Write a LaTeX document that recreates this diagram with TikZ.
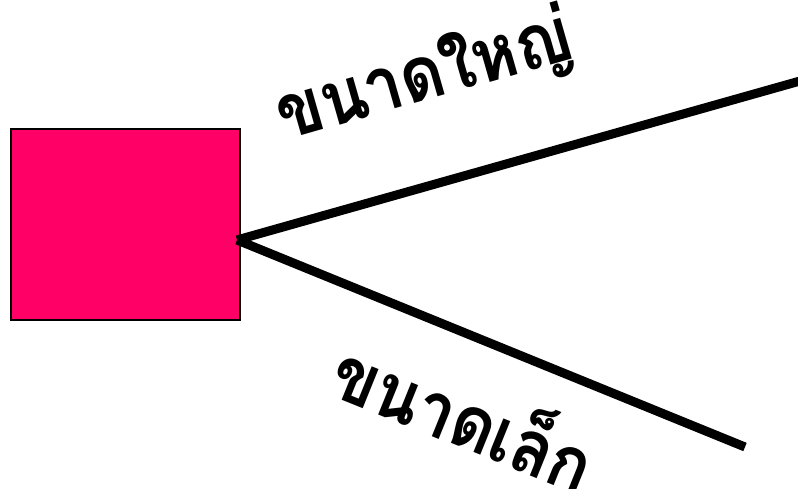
\documentclass[tikz,border=0pt]{standalone}
\usepackage{fontspec}
\newfontfamily\thaifont[Script=Thai, FakeStretch=0.9, LetterSpace=-2]{Loma}
\usetikzlibrary{positioning}
\definecolor{boxpink}{HTML}{FF0066}

\begin{document}
\begin{tikzpicture}[x=1pt, y=-1pt,
    block/.style = {draw, line width=1.5pt, fill=boxpink, minimum width=229pt, minimum height=191pt, inner sep=0pt},
    branch/.style = {line width=9pt},
    label/.style = {font=\thaifont\bfseries\fontsize{76}{78}\selectfont, inner sep=0pt}]
    \useasboundingbox (0,0) rectangle (798,489);
    \node[block] (box) at (125.5,224.5) {};
    \coordinate (root) at (237,240);
    \coordinate (bigEnd) at (800,81);
    \coordinate (smallEnd) at (745,447);

    \draw[branch] (root) -- (bigEnd);
    \draw[branch] (root) -- (smallEnd);

    \node[label, rotate=16] (big) at (425,78) {ขนาดใหญ่};
    \node[label, rotate=-22] (small) at (466,412) {ขนาดเล็ก};
\end{tikzpicture}
\end{document}
